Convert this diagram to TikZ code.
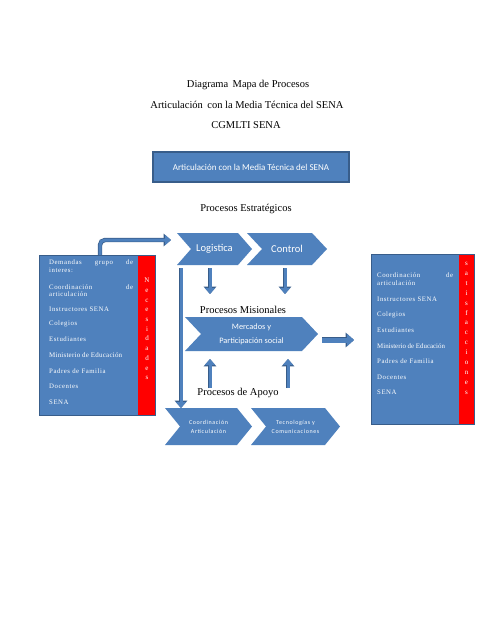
\documentclass[tikz,border=0pt]{standalone}
\usepackage{fontspec}
\setmainfont{Liberation Serif}
\newfontfamily\calib{Carlito}
\newfontfamily\calibsp[LetterSpace=10]{Carlito}
\newfontfamily\serifsp[LetterSpace=8]{Liberation Serif}
\newfontfamily\serifmid[LetterSpace=3]{Liberation Serif}
\usetikzlibrary{arrows.meta}
\definecolor{bfill}{RGB}{79,129,189}
\definecolor{bdark}{RGB}{56,93,138}
\definecolor{sred}{RGB}{255,0,0}
\newcommand\chevnode[8]{% name, x1, x2, y1, y2, depth, font, text
  \fill[bfill] (#2,#4) -- (#3-#6,#4) -- (#3,{(#4+#5)/2}) -- (#3-#6,#5) -- (#2,#5) -- (#2+#6,{(#4+#5)/2}) -- cycle;
  \node[chevtext, font=#7] (#1) at ({(#2+#3)/2},{(#4+#5)/2}) {#8};}
\begin{document}
\begin{tikzpicture}[x=1pt,y=-1pt,
  titletext/.style={font=\fontsize{10.5}{12}\selectfont, inner sep=0},
  chevtext/.style={text=white, align=center, inner sep=0},
  panel/.style={draw=bdark, line width=1pt},
  boxline/.style={anchor=west, text=white, inner sep=0, font=\serifsp\fontsize{6.8}{7.5}\selectfont},
  strip/.style={text=white, align=center, inner sep=0},
  blockarr/.style={draw=bfill, line width=3pt, -{Triangle[length=6pt,width=10pt]},
    preaction={draw=bdark, line width=4.4pt, -{Triangle[length=7.4pt,width=12.4pt]}}},
  fatarr/.style={draw=bfill, line width=5pt, -{Triangle[length=7pt,width=12pt]},
    preaction={draw=bdark, line width=6.4pt, -{Triangle[length=8.4pt,width=14.4pt]}}}
]
\useasboundingbox[fill=white] (0,0) rectangle (495,640);

% titles
\node[titletext] (t1) at (248,85) {Diagrama\, Mapa de Procesos};
\node[titletext] (t2) at (247,105) {Articulación\, con la Media Técnica del SENA};
\node[titletext] (t3) at (246,125) {CGMLTI SENA};

% top box
\node[panel, line width=1.3pt, fill=bfill, minimum width=196, minimum height=30, inner sep=0,
  text=white, font=\calib\fontsize{9}{11}\selectfont] (topbox) at (251,167)
  {Articulación con la Media Técnica del SENA};

\node[titletext] (est) at (246,209) {Procesos Estratégicos};

% left panel
\fill[bfill] (39,255) rectangle (138,415);
\fill[sred] (138,255) rectangle (155,415);
\draw[panel] (39,255) rectangle (155,415);
\node[boxline, text width=84] (l1) at (49,263) {Demandas\hfill grupo\hfill de};
\node[boxline] (l1b) at (49,270.5) {interes:};
\node[boxline, text width=84] (l2) at (49,287) {Coordinación\hfill de};
\node[boxline] (l2b) at (49,294.5) {articulación};
\node[boxline] (l3) at (49,309) {Instructores SENA};
\node[boxline] (l4) at (49,324) {Colegios};
\node[boxline] (l5) at (49,339) {Estudiantes};
\node[boxline, font=\serifmid\fontsize{7}{7.5}\selectfont] (l6) at (49,355) {Ministerio de Educación};
\node[boxline] (l7) at (49,371) {Padres de Familia};
\node[boxline] (l8) at (49,386) {Docentes};
\node[boxline] (l9) at (49,402) {SENA};
\node[strip, font=\fontsize{7}{9.7}\selectfont, anchor=north] (nec) at (147,278)
  {N\\e\\c\\e\\s\\i\\d\\a\\d\\e\\s};

% right panel
\fill[bfill] (371,254) rectangle (459,424);
\fill[sred] (459,254) rectangle (474,424);
\draw[panel] (371,254) rectangle (474,424);
\node[boxline, text width=76] (r1) at (377,275) {Coordinación\hfill de};
\node[boxline] (r1b) at (377,283) {articulación};
\node[boxline] (r2) at (377,299) {Instructores SENA};
\node[boxline] (r3) at (377,315) {Colegios};
\node[boxline] (r4) at (377,330) {Estudiantes};
\node[boxline, font=\fontsize{6.9}{7.5}\selectfont] (r5) at (377,346) {Ministerio de Educación};
\node[boxline] (r6) at (377,361) {Padres de Familia};
\node[boxline] (r7) at (377,377) {Docentes};
\node[boxline] (r8) at (377,392) {SENA};
\node[strip, font=\fontsize{7}{9.9}\selectfont, anchor=north] (sat) at (466.5,262)
  {s\\a\\t\\i\\s\\f\\a\\c\\c\\i\\o\\n\\e\\s};

% chevrons
\chevnode{logi}{177}{252}{233}{265}{14}{\calib\fontsize{10.5}{12}\selectfont}{Logistica}
\chevnode{ctrl}{247}{327}{233}{265}{15}{\calib\fontsize{10.5}{12}\selectfont}{Control}
\node[titletext] (mis) at (243,310) {Procesos Misionales};
\chevnode{merc}{185}{318}{317}{351}{16}{\calib\fontsize{8.3}{14}\selectfont}{Mercados y\\Participación social}
\node[titletext] (apo) at (238,393) {Procesos de Apoyo};
\chevnode{coor}{165}{252}{408}{445}{15}{\calibsp\fontsize{6}{9}\selectfont}{Coordinación\\Articulación}
\chevnode{tecn}{251}{340}{408}{445}{15}{\calibsp\fontsize{6}{9}\selectfont}{Tecnologías y\\Comunicaciones}

% connector coordinates
\coordinate (e0) at (100,255);
\coordinate (e1) at (100,240);
\coordinate (e2) at (171,240);
\coordinate (v0) at (181,268);
\coordinate (v1) at (181,408);
\coordinate (d1a) at (210,268);
\coordinate (d1b) at (210,294);
\coordinate (d2a) at (285,268);
\coordinate (d2b) at (285,294);
\coordinate (u1a) at (210,388);
\coordinate (u1b) at (210,359);
\coordinate (u2a) at (288,388);
\coordinate (u2b) at (288,359);
\coordinate (ra) at (322,340);
\coordinate (rb) at (354,340);

\draw[blockarr, rounded corners=5pt] (e0) -- (e1) -- (e2);
\draw[blockarr] (v0) -- (v1);
\draw[blockarr] (d1a) -- (d1b);
\draw[blockarr] (d2a) -- (d2b);
\draw[blockarr] (u1a) -- (u1b);
\draw[blockarr] (u2a) -- (u2b);
\draw[fatarr] (ra) -- (rb);
\end{tikzpicture}
\end{document}
